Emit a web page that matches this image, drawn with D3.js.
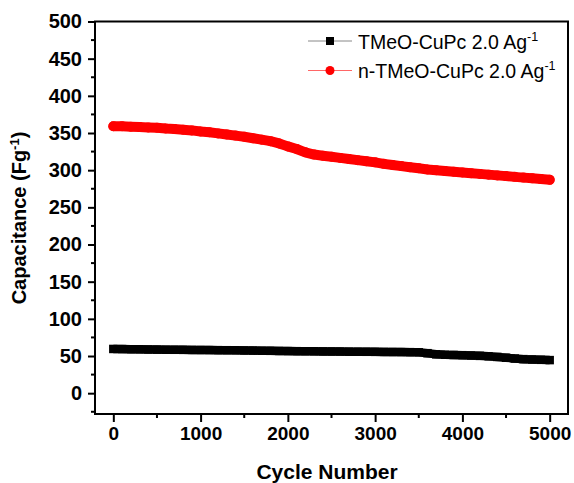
<!DOCTYPE html>
<html><head><meta charset="utf-8">
<script src="https://cdn.jsdelivr.net/npm/d3@7/dist/d3.min.js"></script>
<style>body{margin:0;background:#fff}svg{display:block}</style>
</head><body>
<svg id="c" width="574" height="483"></svg>
<script>
const cycles = [0,100,200,300,400,500,600,700,800,900,1000,1100,1200,1300,1400,1500,1600,1700,1800,1900,2000,2100,2200,2300,2400,2500,2600,2700,2800,2900,3000,3100,3200,3300,3400,3500,3600,3700,3800,3900,4000,4100,4200,4300,4400,4500,4600,4700,4800,4900,5000];
const tmeo = [59.5,59.3,59.1,59,58.8,58.6,58.5,58.4,58.3,58.2,58.1,58,57.9,57.8,57.7,57.5,57.3,57.1,57,56.8,56.6,56.5,56.4,56.3,56.2,56.1,56,55.9,55.8,55.7,55.6,55.5,55.4,55.3,55.2,55,53.8,52.3,51.7,51.4,51.1,50.7,50.2,49.6,48.8,47.7,46.6,45.8,45.3,44.9,44.5];
const ntmeo = [359,359,358.5,358,357.5,357,356,355.5,354.5,353.5,352,351,349.5,348,346.5,345,343,341,339,336,332,328.5,324,321,319.5,318,316.5,315,313.5,312,310.5,308.5,307,305.5,304,302.5,301,300,299,298,297,296,295,294,293,292,291,290,289,288,287];
const seriesNames = ["TMeO-CuPc 2.0 Ag", "n-TMeO-CuPc 2.0 Ag"];
const xTicks = [0,1000,2000,3000,4000,5000];
const yTicks = [0,50,100,150,200,250,300,350,400,450,500];
const xLabel = "Cycle Number";
const yLabel = "Capacitance (Fg";

const svg = d3.select("#c");
const L=95, R=568, T=21.5, B=414;
const x = d3.scaleLinear().domain([-210,5210]).range([L,R]);
const y = d3.scaleLinear().domain([-28,500]).range([B,T]);
const font = "'Liberation Sans', Arial, sans-serif";

// series
const line = (vals) => d3.line().x((d,i)=>x(cycles[i])).y(d=>y(d))(vals);
svg.append("path").attr("d", line(tmeo)).attr("fill","none").attr("stroke","#000").attr("stroke-width",8.5);
svg.append("g").selectAll("rect").data(tmeo).join("rect")
  .attr("x",(d,i)=>x(cycles[i])-4.25).attr("y",d=>y(d)-4.25).attr("width",8.5).attr("height",8.5).attr("fill","#000");
svg.append("path").attr("d", line(ntmeo)).attr("fill","none").attr("stroke","#ff0000").attr("stroke-width",10).attr("stroke-linecap","round").attr("stroke-linejoin","round");
svg.append("g").selectAll("circle").data(ntmeo).join("circle")
  .attr("cx",(d,i)=>x(cycles[i])).attr("cy",d=>y(d)).attr("r",5).attr("fill","#ff0000");

// axes
const xAxis = d3.axisBottom(x).tickValues(xTicks).tickSize(8).tickPadding(5).tickFormat(d3.format("d"));
const gx = svg.append("g").attr("transform",`translate(0,${B})`).call(xAxis);
const yAxis = d3.axisLeft(y).tickValues(yTicks).tickSize(7).tickPadding(6).tickFormat(d3.format("d"));
const gy = svg.append("g").attr("transform",`translate(${L},0)`).call(yAxis);
[gx,gy].forEach(g=>{
  g.select(".domain").remove();
  g.selectAll("line").attr("stroke","#000").attr("stroke-width",2);
  g.selectAll("text").attr("font-family",font).attr("font-weight","bold").attr("fill","#000");
});
gx.selectAll("text").attr("font-size",19);
gy.selectAll("text").attr("font-size",20);
// minor ticks
const xMinor = xTicks.slice(0,-1).map(v=>v+500);
svg.append("g").selectAll("line").data(xMinor).join("line")
  .attr("x1",d=>x(d)).attr("x2",d=>x(d)).attr("y1",B).attr("y2",B+4).attr("stroke","#000").attr("stroke-width",2);
const yMinor = [-25].concat(yTicks.slice(0,-1).map(v=>v+25));
svg.append("g").selectAll("line").data(yMinor).join("line")
  .attr("x1",L-4).attr("x2",L).attr("y1",d=>y(d)).attr("y2",d=>y(d)).attr("stroke","#000").attr("stroke-width",2);

// frame
svg.append("rect").attr("x",L).attr("y",T).attr("width",R-L).attr("height",B-T)
  .attr("fill","none").attr("stroke","#000").attr("stroke-width",2);

// axis titles
svg.append("text").attr("x",327).attr("y",479).attr("text-anchor","middle")
  .attr("font-family",font).attr("font-weight","bold").attr("font-size",21).text(xLabel);
const yt = svg.append("text").attr("transform","translate(26,218) rotate(-90)").attr("text-anchor","middle")
  .attr("font-family",font).attr("font-weight","bold").attr("font-size",20);
yt.append("tspan").text(yLabel);
yt.append("tspan").attr("dy",-7).attr("font-size",13).text("-1");
yt.append("tspan").attr("dy",7).text(")");

// legend
const leg = [{c:"#000", lc:"#888", shape:"sq", name:seriesNames[0], yy:41},{c:"#ff0000", lc:"#ff6666", shape:"ci", name:seriesNames[1], yy:70.5}];
leg.forEach(l=>{
  svg.append("line").attr("x1",308).attr("x2",352).attr("y1",l.yy).attr("y2",l.yy).attr("stroke",l.lc).attr("stroke-width",1);
  if(l.shape==="sq") svg.append("rect").attr("x",326).attr("y",l.yy-4).attr("width",8).attr("height",8).attr("fill",l.c);
  else svg.append("circle").attr("cx",330).attr("cy",l.yy).attr("r",4.5).attr("fill",l.c);
  const t = svg.append("text").attr("x",358).attr("y",l.yy+7.5).attr("font-family",font).attr("font-size",19.5).attr("fill","#000");
  t.append("tspan").text(l.name);
  t.append("tspan").attr("dy",-8).attr("font-size",12.5).text("-1");
});
</script>
</body></html>
